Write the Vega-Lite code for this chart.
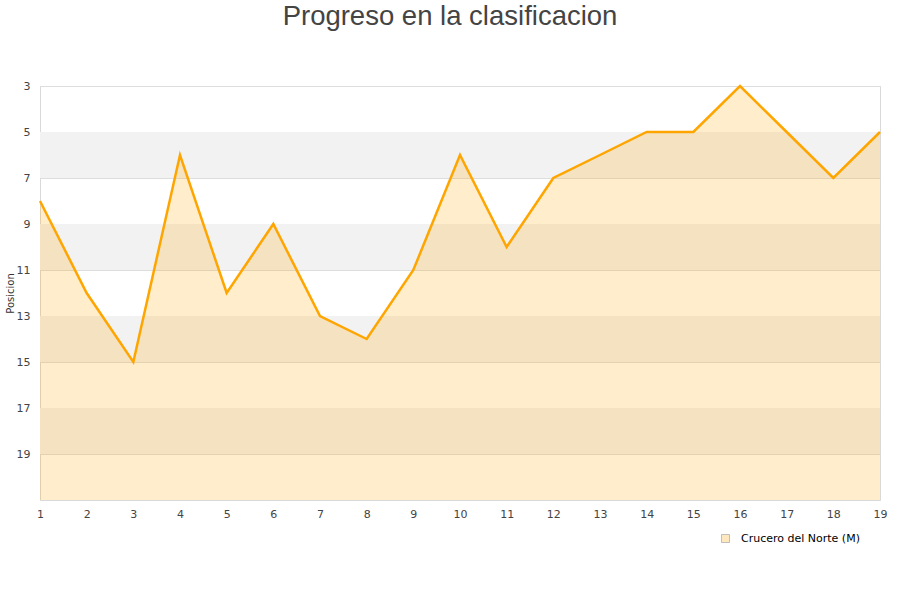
{
  "$schema": "https://vega.github.io/schema/vega-lite/v6.json",
  "autosize": "none",
  "width": 840,
  "height": 414,
  "padding": {"left": 40, "top": 86, "right": 20, "bottom": 100},
  "background": "white",
  "title": {
    "text": "Progreso en la clasificacion",
    "fontSize": 27.5,
    "font": "Liberation Sans",
    "fontWeight": "normal",
    "color": "#444444",
    "anchor": "middle",
    "offset": 50,
    "dx": -10
  },
  "config": {
    "font": "DejaVu Sans",
    "view": {"stroke": "#d9d9d9", "strokeWidth": 1},
    "axis": {"labelColor": "#444444", "labelFontSize": 11, "domain": false, "ticks": false}
  },
  "datasets": {
    "bandas": [
      {"desde": 5, "hasta": 7},
      {"desde": 9, "hasta": 11},
      {"desde": 13, "hasta": 15},
      {"desde": 17, "hasta": 19}
    ],
    "posiciones": [
      {"jornada": 1, "posicion": 8, "equipo": "Crucero del Norte (M)"},
      {"jornada": 2, "posicion": 12, "equipo": "Crucero del Norte (M)"},
      {"jornada": 3, "posicion": 15, "equipo": "Crucero del Norte (M)"},
      {"jornada": 4, "posicion": 6, "equipo": "Crucero del Norte (M)"},
      {"jornada": 5, "posicion": 12, "equipo": "Crucero del Norte (M)"},
      {"jornada": 6, "posicion": 9, "equipo": "Crucero del Norte (M)"},
      {"jornada": 7, "posicion": 13, "equipo": "Crucero del Norte (M)"},
      {"jornada": 8, "posicion": 14, "equipo": "Crucero del Norte (M)"},
      {"jornada": 9, "posicion": 11, "equipo": "Crucero del Norte (M)"},
      {"jornada": 10, "posicion": 6, "equipo": "Crucero del Norte (M)"},
      {"jornada": 11, "posicion": 10, "equipo": "Crucero del Norte (M)"},
      {"jornada": 12, "posicion": 7, "equipo": "Crucero del Norte (M)"},
      {"jornada": 13, "posicion": 6, "equipo": "Crucero del Norte (M)"},
      {"jornada": 14, "posicion": 5, "equipo": "Crucero del Norte (M)"},
      {"jornada": 15, "posicion": 5, "equipo": "Crucero del Norte (M)"},
      {"jornada": 16, "posicion": 3, "equipo": "Crucero del Norte (M)"},
      {"jornada": 17, "posicion": 5, "equipo": "Crucero del Norte (M)"},
      {"jornada": 18, "posicion": 7, "equipo": "Crucero del Norte (M)"},
      {"jornada": 19, "posicion": 5, "equipo": "Crucero del Norte (M)"}
    ]
  },
  "layer": [
    {
      "data": {"name": "bandas"},
      "mark": {"type": "rect", "color": "#f2f2f2"},
      "encoding": {
        "y": {
          "field": "desde",
          "type": "quantitative",
          "scale": {"domain": [3, 21], "reverse": true, "nice": false, "zero": false},
          "axis": {
            "values": [3, 5, 7, 9, 11, 13, 15, 17, 19],
            "grid": true,
            "gridColor": "#dddddd",
            "title": "Posicion",
            "titleFontSize": 10,
            "titleFontWeight": "normal",
            "titleColor": "#333333",
            "titlePadding": 1,
            "labelPadding": 10
          }
        },
        "y2": {"field": "hasta"}
      }
    },
    {
      "data": {"name": "posiciones"},
      "mark": {"type": "area", "fillOpacity": 0.2, "interpolate": "linear"},
      "encoding": {
        "x": {
          "field": "jornada",
          "type": "quantitative",
          "scale": {"domain": [1, 19], "nice": false, "zero": false},
          "axis": {
            "values": [1, 2, 3, 4, 5, 6, 7, 8, 9, 10, 11, 12, 13, 14, 15, 16, 17, 18, 19],
            "grid": false,
            "title": null,
            "labelPadding": 8,
            "labelFlush": false
          }
        },
        "y": {"field": "posicion", "type": "quantitative"},
        "y2": {"datum": 21},
        "color": {
          "field": "equipo",
          "type": "nominal",
          "scale": {"range": ["#ffa500"]},
          "legend": {
            "title": null,
            "orient": "none",
            "legendX": 680,
            "legendY": 447,
            "symbolType": "square",
            "symbolSize": 64,
            "symbolOpacity": 0.25,
            "symbolStrokeColor": "#000000",
            "symbolStrokeWidth": 1,
            "labelOffset": 10,
            "labelFontSize": 11,
            "labelColor": "#000000"
          }
        }
      }
    },
    {
      "data": {"name": "posiciones"},
      "mark": {"type": "line", "color": "#ffa500", "strokeWidth": 2.5},
      "encoding": {
        "x": {"field": "jornada", "type": "quantitative"},
        "y": {"field": "posicion", "type": "quantitative"}
      }
    }
  ]
}
